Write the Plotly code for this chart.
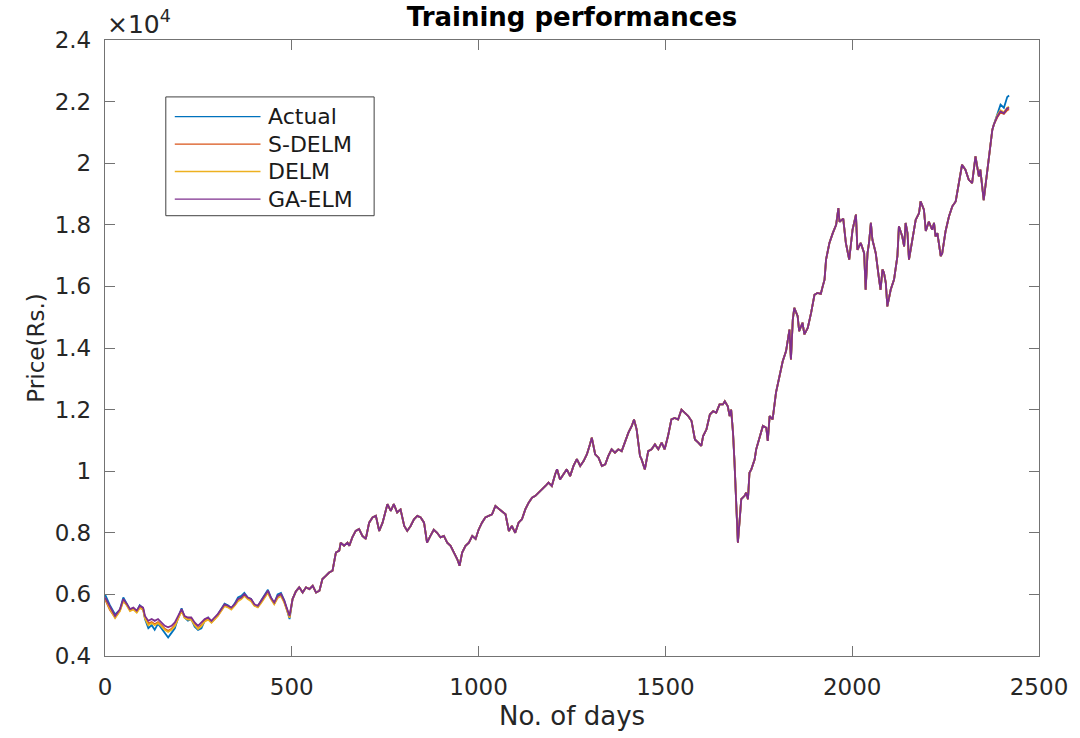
import plotly.graph_objects as go

# ---------------- data (prices in units of 1e4 Rs.) ----------------
# segment A: early days, where the four curves visibly separate
days_a = [0, 13, 27, 40, 49, 58, 67, 76, 85, 93, 102, 107, 116, 125, 133, 142, 151, 160, 169, 178,
          187, 196, 205, 213, 222, 231, 240, 249, 258, 267, 276, 285, 293, 302, 311, 320, 329, 338,
          347, 356, 365, 373, 382, 391, 400, 409, 418, 427, 436, 444, 453, 462, 471, 480, 489, 494]
actual_a = [0.6, 0.565, 0.535, 0.55, 0.59, 0.572, 0.55, 0.555, 0.545, 0.565, 0.555, 0.52, 0.49, 0.50,
            0.485, 0.505, 0.49, 0.475, 0.46, 0.475, 0.49, 0.525, 0.555, 0.525, 0.515, 0.52, 0.495,
            0.485, 0.49, 0.515, 0.525, 0.51, 0.52, 0.535, 0.555, 0.57, 0.565, 0.555, 0.57, 0.59,
            0.595, 0.605, 0.59, 0.585, 0.565, 0.56, 0.58, 0.6, 0.615, 0.59, 0.57, 0.6, 0.605, 0.58,
            0.54, 0.52]
sdelm_a = [0.585, 0.55, 0.525, 0.548, 0.58, 0.567, 0.548, 0.553, 0.543, 0.558, 0.552, 0.525, 0.505,
           0.51, 0.503, 0.51, 0.5, 0.488, 0.482, 0.488, 0.5, 0.525, 0.548, 0.527, 0.52, 0.52, 0.503,
           0.49, 0.5, 0.515, 0.52, 0.51, 0.52, 0.532, 0.548, 0.565, 0.56, 0.553, 0.565, 0.58, 0.587,
           0.597, 0.587, 0.58, 0.565, 0.56, 0.575, 0.592, 0.607, 0.587, 0.57, 0.59, 0.597, 0.575,
           0.543, 0.527]
delm_a = [0.588, 0.553, 0.523, 0.546, 0.578, 0.565, 0.546, 0.551, 0.541, 0.556, 0.55, 0.522, 0.5,
          0.507, 0.5, 0.507, 0.497, 0.485, 0.478, 0.485, 0.497, 0.522, 0.546, 0.524, 0.518, 0.518,
          0.5, 0.488, 0.497, 0.512, 0.518, 0.508, 0.518, 0.53, 0.546, 0.562, 0.558, 0.551, 0.563,
          0.578, 0.585, 0.595, 0.585, 0.578, 0.563, 0.558, 0.572, 0.59, 0.605, 0.585, 0.568, 0.588,
          0.595, 0.573, 0.54, 0.524]
gaelm_a = [0.59, 0.559, 0.53, 0.552, 0.585, 0.57, 0.552, 0.557, 0.547, 0.563, 0.557, 0.53, 0.514,
           0.52, 0.514, 0.52, 0.509, 0.498, 0.493, 0.498, 0.509, 0.53, 0.552, 0.53, 0.525, 0.525,
           0.509, 0.498, 0.509, 0.52, 0.525, 0.514, 0.525, 0.536, 0.552, 0.568, 0.563, 0.557, 0.568,
           0.585, 0.59, 0.601, 0.59, 0.585, 0.568, 0.563, 0.579, 0.595, 0.612, 0.59, 0.574, 0.595,
           0.601, 0.579, 0.547, 0.53]

# segment B: middle days, where all four curves overlap
days_b = [502, 511, 520, 529, 538, 547, 556, 565, 574, 582, 591, 600, 609, 618, 627, 631, 640, 649,
          654, 662, 671, 680, 689, 698, 707, 716, 725, 734, 743, 751, 756, 765, 773, 782, 791, 801,
          809, 818, 827, 836, 845, 854, 862, 871, 880, 889, 898, 907, 916, 925, 934, 943, 949, 956,
          965, 974, 983, 992, 1000, 1009, 1018, 1027, 1036, 1045, 1054, 1063, 1072, 1081, 1089,
          1098, 1107, 1116, 1125, 1134, 1143, 1152, 1161, 1170, 1179, 1187, 1196, 1205, 1210, 1218,
          1227, 1236, 1245, 1254, 1263, 1272, 1281, 1290, 1298, 1303, 1312, 1321, 1330, 1339, 1347,
          1356, 1365, 1374, 1383, 1392, 1401, 1410, 1416, 1423, 1432, 1436, 1445, 1454, 1463, 1472,
          1481, 1490, 1498, 1507, 1516, 1525, 1534, 1543, 1552, 1561, 1570, 1579, 1588, 1596, 1601,
          1610, 1619, 1628, 1636, 1645, 1654, 1659, 1667, 1672, 1676, 1681, 1685, 1690, 1694, 1699,
          1703, 1712, 1716, 1721, 1725, 1730, 1739, 1743, 1752, 1761, 1770, 1774, 1779, 1787, 1796,
          1805, 1814, 1823, 1832, 1836, 1841, 1845, 1854, 1858, 1867, 1872, 1881, 1890, 1899, 1907,
          1916, 1921, 1926, 1930, 1939, 1948, 1957, 1963, 1966, 1976, 1983, 1992, 1996, 2001, 2010,
          2014, 2023, 2032, 2036, 2041, 2045, 2050, 2054, 2063, 2072, 2076, 2081, 2085, 2090, 2094,
          2103, 2112, 2121, 2125, 2134, 2139, 2143, 2148, 2152, 2161, 2170, 2179, 2183, 2192, 2197,
          2205, 2214, 2219, 2223, 2228, 2232, 2237, 2241, 2250, 2259, 2268, 2277, 2286, 2294, 2303,
          2312, 2321, 2330, 2339, 2343, 2352, 2361, 2370, 2375, 2379]
shared_b = [0.585, 0.61, 0.623, 0.606, 0.623, 0.617, 0.628, 0.606, 0.612, 0.65, 0.66, 0.671, 0.677,
            0.736, 0.742, 0.768, 0.758, 0.768, 0.758, 0.785, 0.806, 0.812, 0.79, 0.78, 0.833, 0.85,
            0.855, 0.806, 0.833, 0.876, 0.893, 0.871, 0.893, 0.866, 0.876, 0.822, 0.806, 0.822,
            0.844, 0.855, 0.85, 0.833, 0.768, 0.79, 0.81, 0.8, 0.785, 0.79, 0.768, 0.758, 0.736,
            0.714, 0.693, 0.736, 0.758, 0.768, 0.79, 0.78, 0.81, 0.833, 0.85, 0.855, 0.86, 0.887,
            0.878, 0.866, 0.86, 0.806, 0.822, 0.8, 0.833, 0.844, 0.876, 0.898, 0.914, 0.92, 0.93,
            0.941, 0.952, 0.963, 0.952, 0.99, 1.006, 0.973, 0.99, 1.006, 0.984, 1.017, 1.039, 1.017,
            1.033, 1.055, 1.087, 1.109, 1.055, 1.044, 1.017, 1.022, 1.049, 1.071, 1.06, 1.071, 1.065,
            1.098, 1.125, 1.147, 1.168, 1.136, 1.049, 1.039, 1.006, 1.065, 1.071, 1.087, 1.071,
            1.093, 1.071, 1.114, 1.168, 1.173, 1.168, 1.2, 1.19, 1.179, 1.163, 1.103, 1.093, 1.082,
            1.114, 1.136, 1.184, 1.195, 1.19, 1.217, 1.217, 1.227, 1.211, 1.179, 1.2, 1.125, 1.028,
            0.866, 0.768, 0.845, 0.909, 0.92, 0.93, 0.909, 0.995, 1.006, 1.039, 1.071, 1.114, 1.147,
            1.141, 1.098, 1.179, 1.168, 1.255, 1.303, 1.357, 1.39, 1.46, 1.363, 1.492, 1.53, 1.503,
            1.455, 1.482, 1.444, 1.465, 1.514, 1.573, 1.579, 1.576, 1.6, 1.622, 1.687, 1.741, 1.773,
            1.8, 1.854, 1.81, 1.82, 1.741, 1.687, 1.73, 1.784, 1.833, 1.719, 1.741, 1.708, 1.589,
            1.708, 1.741, 1.806, 1.752, 1.708, 1.622, 1.589, 1.655, 1.644, 1.611, 1.535, 1.589,
            1.622, 1.698, 1.795, 1.762, 1.73, 1.806, 1.773, 1.687, 1.752, 1.816, 1.838, 1.876, 1.849,
            1.78, 1.81, 1.784, 1.806, 1.762, 1.773, 1.73, 1.698, 1.708, 1.78, 1.827, 1.86, 1.876,
            1.935, 1.995, 1.979, 1.946, 1.935, 2.022, 1.957, 1.979, 1.88, 1.968, 2.055, 2.108, 2.125]

# segment C: last days, where the actual price pulls above the models
days_c = [2388, 2397, 2406, 2415, 2420]
actual_c = [2.16, 2.19, 2.18, 2.215, 2.22]
sdelm_c = [2.148, 2.165, 2.16, 2.172, 2.175]
delm_c = [2.155, 2.172, 2.165, 2.18, 2.183]
gaelm_c = [2.151, 2.168, 2.162, 2.178, 2.18]

series_names = ["Actual", "S-DELM", "DELM", "GA-ELM"]
series_colors = ["#0072BD", "#D95319", "#EDB120", "#7E2F8E"]

x_ticks = [0, 500, 1000, 1500, 2000, 2500]
y_tick_vals = [0.4, 0.6, 0.8, 1.0, 1.2, 1.4, 1.6, 1.8, 2.0, 2.2, 2.4]
y_tick_text = ["0.4", "0.6", "0.8", "1", "1.2", "1.4", "1.6", "1.8", "2", "2.2", "2.4"]

days = days_a + days_b + days_c
series_values = [
    actual_a + shared_b + actual_c,
    sdelm_a + shared_b + sdelm_c,
    delm_a + shared_b + delm_c,
    gaelm_a + shared_b + gaelm_c,
]

# ---------------- figure ----------------
W, H = 1080, 738
L, R, T, B = 105, 1042, 40, 657
FONT = "DejaVu Sans"

fig = go.Figure()
for name, color, vals in zip(series_names, series_colors, series_values):
    fig.add_trace(go.Scatter(x=days, y=vals, mode="lines", name=name,
                             line=dict(color=color, width=1.8), showlegend=False))


def px_x(p):
    return (p - L) / (R - L)


def px_y(p):
    return (B - p) / (B - T)


# hand-drawn MATLAB-style legend
leg_x0, leg_x1, leg_y0, leg_y1 = 166, 375, 97, 216
fig.add_shape(type="rect", xref="paper", yref="paper",
              x0=px_x(leg_x0), x1=px_x(leg_x1), y0=px_y(leg_y1), y1=px_y(leg_y0),
              line=dict(color="#404040", width=1), fillcolor="white", layer="above")
row_y = [116.7, 144.3, 171.7, 199.3]
for name, color, ry in zip(series_names, series_colors, row_y):
    fig.add_shape(type="line", xref="paper", yref="paper",
                  x0=px_x(175), x1=px_x(261), y0=px_y(ry), y1=px_y(ry),
                  line=dict(color=color, width=1.3), layer="above")
    fig.add_annotation(text=name, xref="paper", yref="paper", x=px_x(267), y=px_y(ry),
                       xanchor="left", yanchor="middle", showarrow=False,
                       font=dict(family=FONT, size=22, color="#1a1a1a"))

# exponent label
fig.add_annotation(text="×10<sup>4</sup>", xref="paper", yref="paper", x=0, y=1,
                   xanchor="left", yanchor="bottom", xshift=0, yshift=-1, showarrow=False,
                   font=dict(family=FONT, size=25, color="#262626"))

axis_common = dict(showgrid=False, zeroline=False, showline=True, linecolor="#737373",
                   linewidth=1.3, mirror="ticks", ticks="inside", ticklen=10, tickwidth=1.3,
                   tickcolor="#737373", tickfont=dict(family=FONT, size=23, color="#262626"))

fig.update_layout(
    width=W, height=H,
    margin=dict(l=L, r=W - R, t=T, b=H - B),
    paper_bgcolor="white", plot_bgcolor="white",
    title=dict(text="<b>Training performances</b>", x=0.5, xref="paper",
               y=1 - 8 / H, yref="container", yanchor="top",
               font=dict(family=FONT, size=26, color="black")),
    xaxis=dict(range=[0, 2500], tickvals=x_ticks, ticklabelstandoff=10,
               title=dict(text="No. of days", standoff=8,
                          font=dict(family=FONT, size=26, color="#262626")),
               **axis_common),
    yaxis=dict(range=[0.4, 2.4], tickvals=y_tick_vals, ticktext=y_tick_text,
               ticklabelstandoff=8,
               title=dict(text="Price(Rs.)", standoff=3,
                          font=dict(family=FONT, size=23, color="#262626")),
               **axis_common),
)

fig.write_html("out.html")
